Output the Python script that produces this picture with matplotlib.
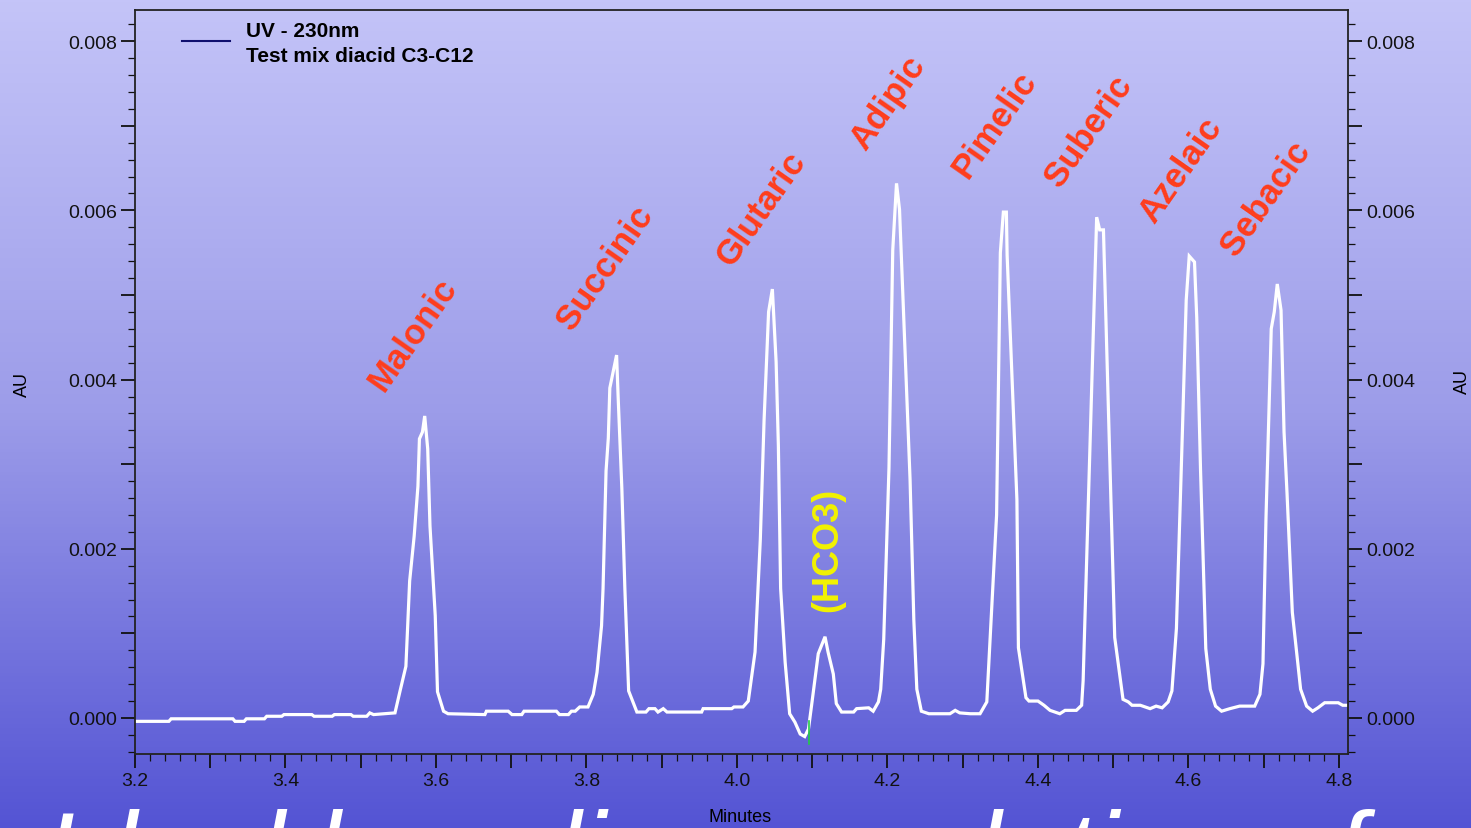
import matplotlib
matplotlib.use("Agg")
import matplotlib.pyplot as plt
import numpy as np
from matplotlib.colors import LinearSegmentedColormap
from matplotlib.ticker import MultipleLocator, FuncFormatter

plt.rcParams["font.family"] = ["Liberation Sans", "DejaVu Sans"]

# chromatogram trace (minutes, AU)
times = [
    3.200, 3.245, 3.248, 3.330, 3.333, 3.345, 3.348, 3.372, 3.375, 3.395,
    3.398, 3.435, 3.438, 3.462, 3.465, 3.487, 3.490, 3.508, 3.512, 3.517,
    3.532, 3.5455,
    # malonic
    3.552, 3.560, 3.563, 3.565, 3.571, 3.576, 3.578, 3.582, 3.585, 3.589,
    3.592, 3.599, 3.602, 3.610, 3.616,
    3.665, 3.667, 3.696, 3.701, 3.714, 3.717, 3.760, 3.764, 3.776, 3.780,
    3.785, 3.791, 3.802,
    # succinic
    3.809, 3.814, 3.820, 3.822, 3.826, 3.829, 3.831, 3.840, 3.842, 3.847,
    3.851, 3.856, 3.867,
    3.879, 3.883, 3.891, 3.895, 3.902, 3.907, 3.953, 3.955, 3.993, 3.996,
    4.008,
    # glutaric
    4.015, 4.024, 4.031, 4.036, 4.042, 4.047, 4.052, 4.055, 4.058, 4.064,
    4.070, 4.077, 4.084, 4.090, 4.095, 4.099,
    # HCO3
    4.108, 4.117, 4.121, 4.128, 4.132, 4.139, 4.155, 4.159, 4.175, 4.181,
    4.188,
    # adipic
    4.191, 4.195, 4.202, 4.207, 4.212, 4.216, 4.230, 4.235, 4.239, 4.245,
    4.255, 4.283, 4.290, 4.296, 4.310, 4.323,
    # pimelic
    4.332, 4.345, 4.350, 4.354, 4.358, 4.359, 4.372, 4.374, 4.384, 4.388,
    4.400, 4.408, 4.416, 4.429, 4.436, 4.451,
    # suberic
    4.458, 4.460, 4.478, 4.482, 4.487, 4.502, 4.513, 4.520, 4.525, 4.536,
    4.549, 4.557, 4.565, 4.573, 4.578,
    # azelaic
    4.584, 4.592, 4.597, 4.601, 4.608, 4.611, 4.616, 4.623, 4.629, 4.636,
    4.644, 4.655, 4.668, 4.688, 4.695,
    # sebacic
    4.699, 4.703, 4.710, 4.714, 4.718, 4.723, 4.727, 4.731, 4.738, 4.744,
    4.749, 4.757, 4.765, 4.772, 4.781, 4.799, 4.805, 4.813,
]
absorbance = [
    -0.00004, -0.00004, -0.00001, -0.00001, -0.00004, -0.00004, -0.00001, -0.00001, 0.00002, 0.00002,
    0.00004, 0.00004, 0.00002, 0.00002, 0.00004, 0.00004, 0.00002, 0.00002, 0.00006, 0.00004,
    0.00005, 0.00006,
    0.00031, 0.00061, 0.00121, 0.00162, 0.00215, 0.00274, 0.00330, 0.00338, 0.00357, 0.00318,
    0.00227, 0.00121, 0.00031, 0.00008, 0.00005,
    0.00004, 0.00008, 0.00008, 0.00004, 0.00004, 0.00008, 0.00008, 0.00004, 0.00004, 0.00008,
    0.00008, 0.00013, 0.00013,
    0.00028, 0.00054, 0.00109, 0.00153, 0.00292, 0.00331, 0.00390, 0.00429, 0.00381, 0.00271,
    0.00153, 0.00032, 0.00007,
    0.00007, 0.00011, 0.00011, 0.00007, 0.00011, 0.00007, 0.00007, 0.00011, 0.00011, 0.00013,
    0.00013,
    0.00020, 0.00078, 0.00211, 0.00352, 0.00480, 0.00507, 0.00421, 0.00322, 0.00153, 0.00066,
    0.00005, -0.00005, -0.00019, -0.00022, -0.00013, 0.00014,
    0.00076, 0.00096, 0.00078, 0.00052, 0.00017, 0.00007, 0.00007, 0.00011, 0.00012, 0.00008,
    0.00019,
    0.00034, 0.00093, 0.00296, 0.00553, 0.00632, 0.00601, 0.00282, 0.00116, 0.00034, 0.00008,
    0.00005, 0.00005, 0.00009, 0.00006, 0.00005, 0.00005,
    0.00019, 0.00240, 0.00550, 0.00598, 0.00598, 0.00547, 0.00258, 0.00083, 0.00024, 0.00020,
    0.00020, 0.00015, 0.00009, 0.00005, 0.00009, 0.00009,
    0.00015, 0.00044, 0.00592, 0.00577, 0.00577, 0.00095, 0.00022, 0.00019, 0.00015, 0.00015,
    0.00011, 0.00014, 0.00012, 0.00019, 0.00032,
    0.00106, 0.00341, 0.00494, 0.00546, 0.00539, 0.00473, 0.00294, 0.00082, 0.00034, 0.00014,
    0.00008, 0.00011, 0.00014, 0.00014, 0.00028,
    0.00064, 0.00236, 0.00460, 0.00480, 0.00513, 0.00482, 0.00338, 0.00265, 0.00125, 0.00075,
    0.00034, 0.00014, 0.00008, 0.00012, 0.00018, 0.00018, 0.00015, 0.00015,
]

peak_names = ["Malonic", "Succinic", "Glutaric", "Adipic", "Pimelic",
              "Suberic", "Azelaic", "Sebacic"]
label_pos = [(3.569, 0.00454), (3.825, 0.00533), (4.033, 0.00603), (4.201, 0.00728),
             (4.342, 0.00703), (4.468, 0.00695), (4.590, 0.00648), (4.703, 0.00615)]
hco3_pos = (4.121, 0.00200)
event_time = 4.096
event_range = (-0.00004, -0.00031)

legend_lines = ["UV - 230nm", "Test mix diacid C3-C12"]

fig = plt.figure(figsize=(14.71, 8.29), dpi=100)

# slide background gradient
bg = fig.add_axes([0, 0, 1, 1], zorder=0)
grad = np.linspace(0, 1, 256).reshape(-1, 1)
cmap = LinearSegmentedColormap.from_list("bg", ["#c4c4f8", "#9c9ce9", "#5454d4"])
bg.imshow(grad, aspect="auto", cmap=cmap, extent=[0, 1, 0, 1], origin="upper")
bg.axis("off")

W, H = 1471, 829
ax = fig.add_axes([135 / W, 1 - 755 / H, (1348 - 135) / W, (755 - 11) / H], zorder=1)
ax.patch.set_alpha(0)

ax.plot(times, absorbance, color="white", lw=2.3, solid_joinstyle="miter")
ax.plot([event_time, event_time], event_range, color="#22cc44", lw=1.2)

ax.set_xlim(3.2, 4.812)
ax.set_ylim(-0.000426, 0.008369)

red = "#ff3d1c"
for name, (x, y) in zip(peak_names, label_pos):
    ax.text(x, y, name, rotation=55, rotation_mode="anchor", ha="center", va="center",
            color=red, fontsize=25, fontweight="bold")
ax.text(*hco3_pos, "(HCO3)", rotation=90, rotation_mode="anchor", ha="center", va="center",
        color="#f2f200", fontsize=26, fontweight="bold")

# legend
ax.plot([0.0387, 0.0783], [0.9583, 0.9583], color="#10106e", lw=1.5, transform=ax.transAxes)
ax.text(0.0915, 0.9731, legend_lines[0], transform=ax.transAxes, va="center",
        fontsize=15, fontweight="bold", color="black")
ax.text(0.0915, 0.9382, legend_lines[1], transform=ax.transAxes, va="center",
        fontsize=15, fontweight="bold", color="black")

# ticks
ax.xaxis.set_major_locator(MultipleLocator(0.1))
ax.xaxis.set_minor_locator(MultipleLocator(0.02))
ax.xaxis.set_major_formatter(FuncFormatter(
    lambda v, p: f"{v:.1f}" if round(v * 10) % 2 == 0 else ""))
ax.yaxis.set_major_locator(MultipleLocator(0.001))
ax.yaxis.set_minor_locator(MultipleLocator(0.0002))
ax.yaxis.set_major_formatter(FuncFormatter(
    lambda v, p: f"{v:.3f}" if round(v * 1000) % 2 == 0 else ""))
ax.yaxis.set_ticks_position("both")
ax.tick_params(axis="y", labelright=True)
ax.tick_params(which="major", direction="out", length=10, width=1.3, colors="#111111",
               labelsize=14, pad=3)
ax.tick_params(which="minor", direction="out", length=5, width=0.9, colors="#111111")
ax.tick_params(top=False, which="both")
for lab in ax.get_xticklabels():
    lab.set_family(["Liberation Sans Narrow", "Liberation Sans"])
for sp in ax.spines.values():
    sp.set_color("#222222")
    sp.set_linewidth(1.3)

fig.text(22 / W, 1 - 385 / H, "AU", rotation=90, ha="center", va="center", fontsize=13)
fig.text(1462 / W, 1 - 382 / H, "AU", rotation=90, ha="center", va="center", fontsize=13)
fig.text(740 / W, 1 - 818 / H, "Minutes", ha="center", va="center", fontsize=13,
         family=["Liberation Sans Narrow", "Liberation Sans"])

# slide caption cut off at the bottom edge
fig.text(0.03, (H - 890) / H, "Ideal baseline resolution of all the diacids",
         color="white", fontsize=80, style="italic", ha="left", va="baseline")

fig.savefig("out.png", dpi=100)
